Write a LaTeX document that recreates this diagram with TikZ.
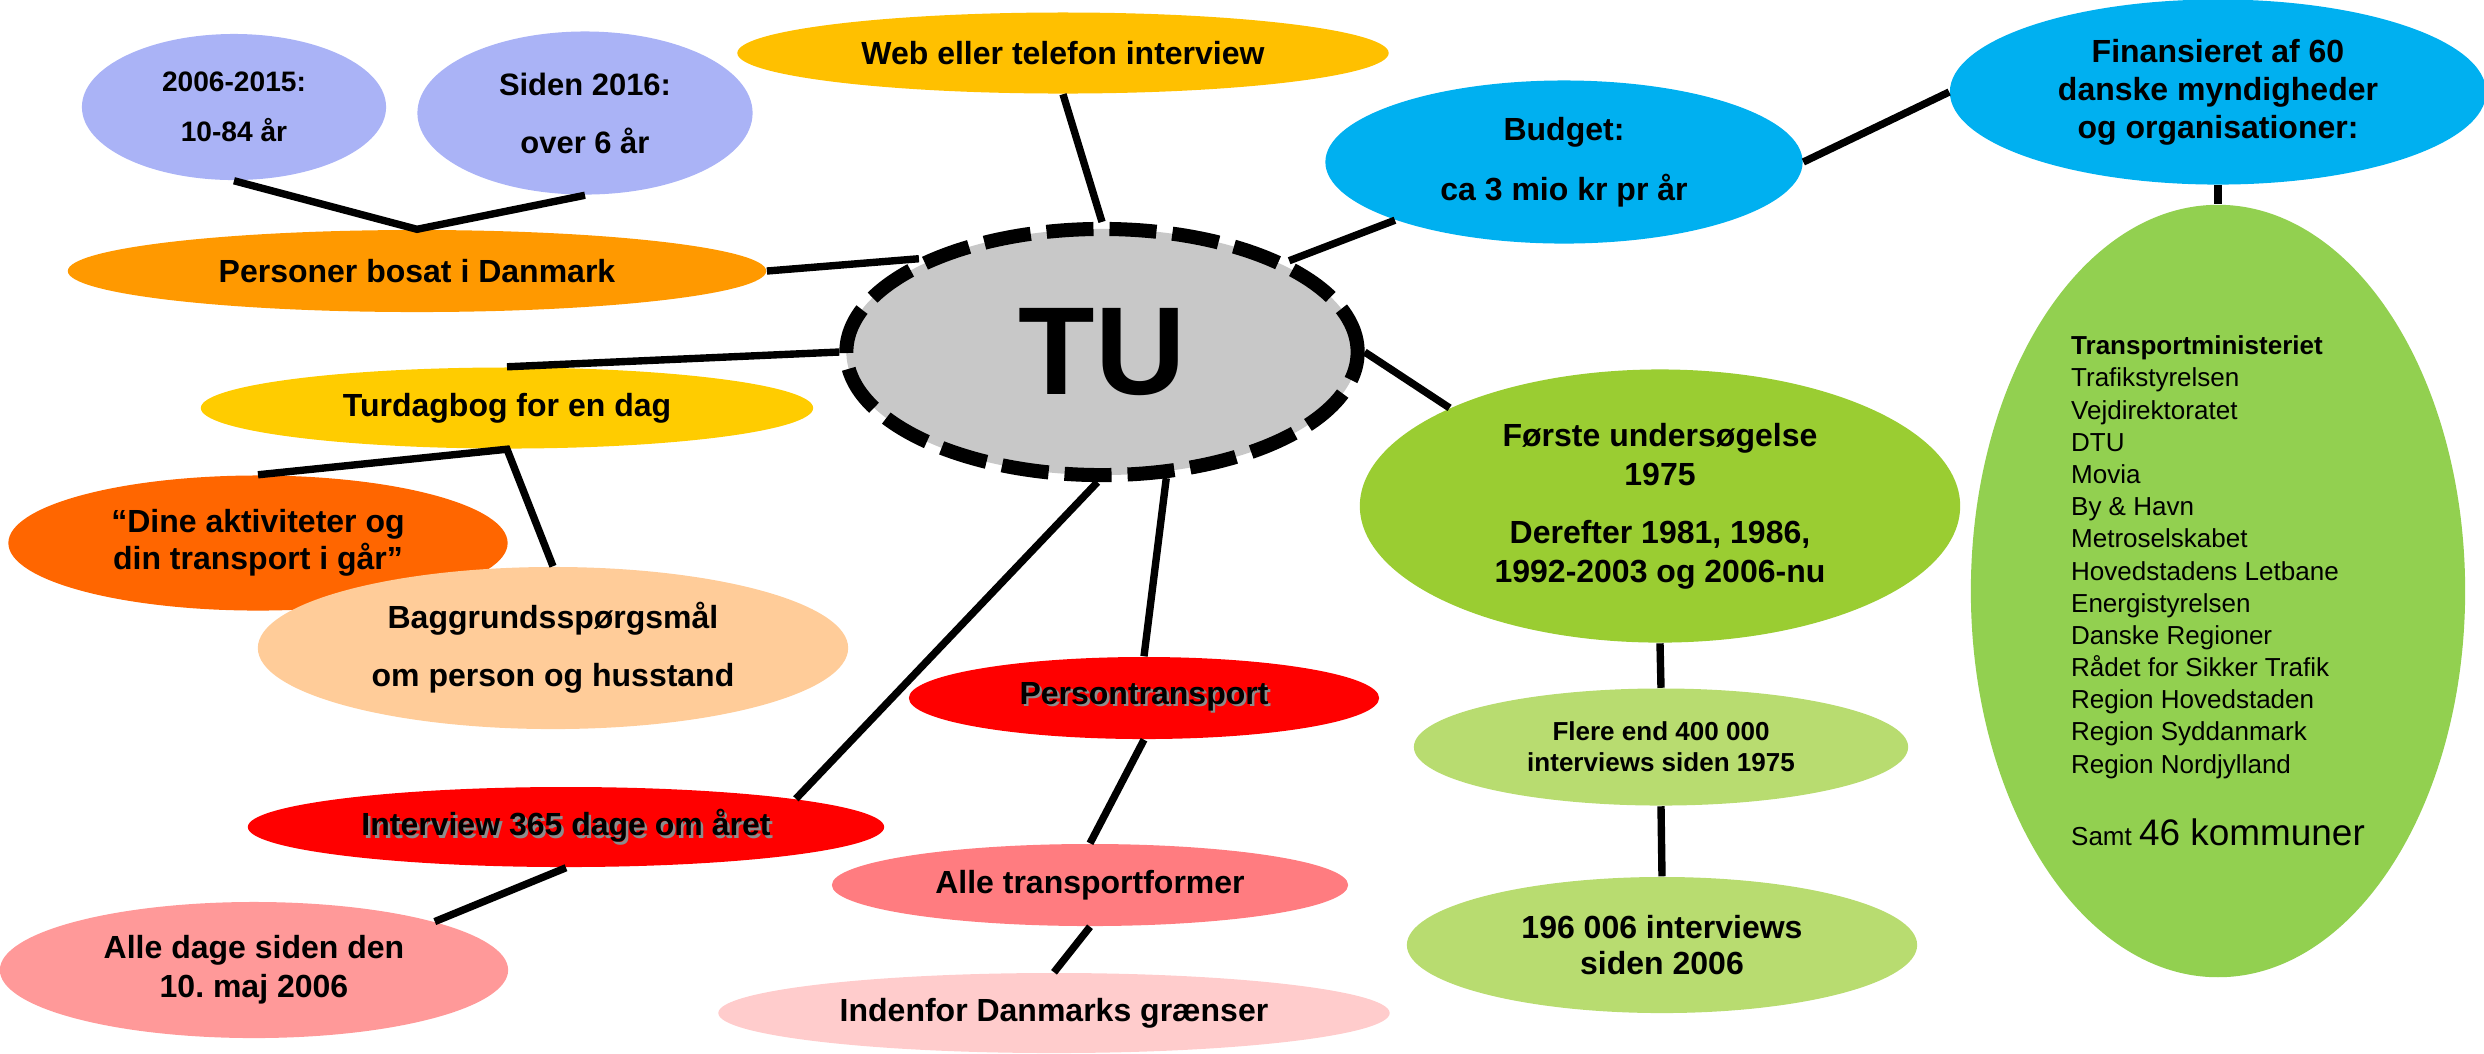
\documentclass[tikz,border=0pt]{standalone}
\usepackage{fontspec}
\setmainfont{Liberation Sans}
\usetikzlibrary{shapes.geometric}
\frenchspacing

\definecolor{lavender}{RGB}{170,179,246}
\definecolor{persorange}{RGB}{255,153,0}
\definecolor{webyellow}{RGB}{255,192,0}
\definecolor{dagyellow}{RGB}{255,204,0}
\definecolor{dineorange}{RGB}{255,102,0}
\definecolor{baggpeach}{RGB}{255,204,153}
\definecolor{tugray}{RGB}{200,200,200}
\definecolor{budgetblue}{RGB}{0,176,240}
\definecolor{orggreen}{RGB}{146,208,80}
\definecolor{forstegreen}{RGB}{154,205,50}
\definecolor{lightgreen}{RGB}{184,220,112}
\definecolor{transred}{RGB}{255,0,0}
\definecolor{dagepink}{RGB}{255,153,153}
\definecolor{formpink}{RGB}{255,124,128}
\definecolor{palepink}{RGB}{255,204,204}

% text with a soft dark shadow, as on the red bubbles
\newcommand{\shadowtxt}[1]{%
  \makebox[0pt][l]{\hspace{0.7pt}\raisebox{-0.7pt}{\color{black!45}#1}}#1}

\begin{document}
\begin{tikzpicture}[x=0.01cm,y=-0.01cm,
    bubble/.style={ellipse,inner sep=0pt,align=center,
        font=\bfseries\fontsize{9.1}{11}\selectfont},
    link/.style={line width=2.1pt},
    hub/.style={ellipse,draw=black,fill=tugray,line width=4pt,
        dash pattern=on 0.47cm off 0.16cm,inner sep=0pt,
        font=\bfseries\fontsize{35.6}{40}\selectfont}]

% Page is the slide: 2484 x 1053 units.
\useasboundingbox (0,0) rectangle (2484,1053);

% Centre of the map.
\node[hub,minimum width=5.11cm,minimum height=2.46cm] (tu) at (1102,352) {TU};

%
% Upper left branch: who is asked.
\node[bubble,fill=lavender,minimum width=3.04cm,minimum height=1.46cm,
      font=\bfseries\fontsize{8}{14.2}\selectfont] (ageold) at (234,107)
      {2006-2015:\\10-84 år};
\node[bubble,fill=lavender,minimum width=3.35cm,minimum height=1.63cm,
      font=\bfseries\fontsize{8.8}{16.5}\selectfont] (agenew) at (585,113)
      {Siden 2016:\\over 6 år};
\node[bubble,fill=persorange,minimum width=6.98cm,minimum height=0.82cm]
      (pers) at (417,271) {Personer bosat i Danmark};

% Top: how the interview is made.
\node[bubble,fill=webyellow,minimum width=6.51cm,minimum height=0.81cm]
      (web) at (1063,53) {Web eller telefon interview};

%
% Left branch: the trip diary.
\node[bubble,fill=dagyellow,minimum width=6.12cm,minimum height=0.81cm]
      (turdag) at (507,408) {Turdagbog for en dag};
\node[bubble,fill=dineorange,minimum width=4.99cm,minimum height=1.35cm,
      font=\bfseries\fontsize{9.1}{10.5}\selectfont] (dine) at (258,543)
      {“Dine aktiviteter og\\din transport i går”};
\node[bubble,fill=baggpeach,minimum width=5.90cm,minimum height=1.62cm,
      font=\bfseries\fontsize{9.1}{16.5}\selectfont] (bagg) at (553,648)
      {Baggrundsspørgsmål\\om person og husstand};

%
% Lower left branch: every day of the year.
\node[bubble,fill=transred,minimum width=6.36cm,minimum height=0.80cm]
      (int365) at (566,827) {\shadowtxt{Interview 365 dage om året}};
\node[bubble,fill=dagepink,minimum width=5.08cm,minimum height=1.36cm,
      font=\bfseries\fontsize{9.1}{11.1}\selectfont] (alledage) at (254,970)
      {Alle dage siden den\\10. maj 2006};

%
% Lower middle branch: what is covered.
\node[bubble,fill=transred,minimum width=4.70cm,minimum height=0.82cm]
      (ptrans) at (1144,698) {\shadowtxt{Persontransport}};
\node[bubble,fill=formpink,minimum width=5.16cm,minimum height=0.82cm]
      (alletr) at (1090,885) {Alle transportformer};
\node[bubble,fill=palepink,minimum width=6.71cm,minimum height=0.80cm]
      (inden) at (1054,1013) {Indenfor Danmarks grænser};

%
% Right branch: history.
\node[bubble,fill=forstegreen,minimum width=6.00cm,minimum height=2.73cm,
      font=\bfseries\fontsize{9.1}{11.1}\selectfont] (forste) at (1660,506)
      {Første undersøgelse\\1975\\[5.4pt]Derefter 1981, 1986,\\1992-2003 og 2006-nu};
\node[bubble,fill=lightgreen,minimum width=4.94cm,minimum height=1.17cm,
      font=\bfseries\fontsize{7.4}{8.8}\selectfont] (flere) at (1661,747)
      {Flere end 400 000\\interviews siden 1975};
\node[bubble,fill=lightgreen,minimum width=5.10cm,minimum height=1.36cm,
      font=\bfseries\fontsize{9.1}{10.5}\selectfont] (n196) at (1662,945)
      {196 006 interviews\\siden 2006};

%
% Upper right branch: money.
\node[bubble,fill=budgetblue,minimum width=4.77cm,minimum height=1.63cm,
      font=\bfseries\fontsize{9.1}{17.1}\selectfont] (budget) at (1564,162)
      {Budget:\\ca 3 mio kr pr år};
\node[bubble,fill=budgetblue,minimum width=5.36cm,minimum height=1.85cm,
      font=\bfseries\fontsize{9.1}{10.8}\selectfont] (finans) at (2218,92)
      {Finansieret af 60\\danske myndigheder\\og organisationer:};
\node[bubble,fill=orggreen,minimum width=4.94cm,minimum height=7.72cm,
      align=left,font=\fontsize{7.4}{9.15}\selectfont] (orgs) at (2218,591)
      {\textbf{Transportministeriet}\\Trafikstyrelsen\\Vejdirektoratet\\DTU\\
       Movia\\By \& Havn\\Metroselskabet\\Hovedstadens Letbane\\
       Energistyrelsen\\Danske Regioner\\Rådet for Sikker Trafik\\
       Region Hovedstaden\\Region Syddanmark\\Region Nordjylland\\[11.5pt]
       Samt {\fontsize{10.5}{9.15}\selectfont 46 kommuner}};

%
% Connectors, node to node.
\draw[link] (ageold.south) -- (pers.north) -- (agenew.south);
\draw[link] (pers.east) -- (tu.153);
\draw[link] (web.south) -- (tu.north);
\draw[link] (turdag.north) -- (tu.west);
\draw[link] (dine.north) -- (turdag.south) -- (bagg.north);
\draw[link] (tu.268) -- (int365.7);
\draw[link] (int365.south) -- (alledage.15);
\draw[link] (tu.297) -- (ptrans.north);
\draw[link] (ptrans.south) -- (alletr.north);
\draw[link] (alletr.south) -- (inden.north);
\draw[link] (tu.east) -- (forste.155);
\draw[link] (forste.south) -- (flere.north);
\draw[link] (flere.south) -- (n196.north);
\draw[link] (tu.26) -- (budget.199);
\draw[link] (budget.east) -- (finans.west);
\draw[link] (finans.south) -- (orgs.north);

\end{tikzpicture}
\end{document}
